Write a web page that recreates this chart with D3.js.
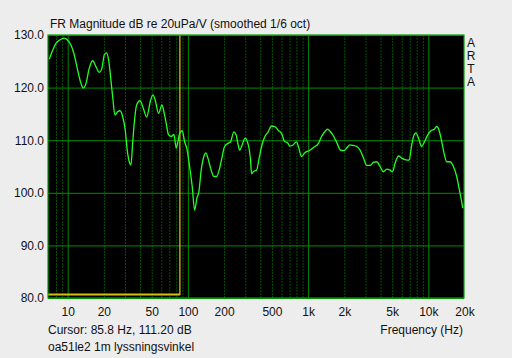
<!DOCTYPE html>
<html>
<head>
<meta charset="utf-8">
<script src="https://cdn.jsdelivr.net/npm/d3@7"></script>
<style>
  body { margin: 0; background: #eeeded; }
  text { font-family: "Liberation Sans", Arial, sans-serif; font-size: 12px; fill: #111; }
</style>
</head>
<body>
<div id="myDiv"></div>
<script>
// frequency (Hz) and level (dB)
var freqs = [7.03, 7.5, 7.99, 8.8, 9.37, 10, 10.65, 11.35, 12.11, 12.9, 13.48, 14.2, 15.12, 16.14, 17.19, 18.31,
  19.28, 20.15, 21.1, 21.92, 22.9, 23.66, 24.73, 26.04, 27.21, 28.66, 30.12, 31.29, 32.52, 33.6, 34.7, 35.78,
  37.46, 39.9, 42.5, 45.36, 48.97, 51.19, 53.5, 57.07, 60.8, 63.17, 66.02, 69.11, 72.64, 76.49, 79.93, 82.58,
  85.31, 89.66, 93.89, 98.67, 103.3, 108.6, 113.7, 118.8, 123.4, 129, 135.8, 141.1, 146.7, 154.4, 164.5, 173.2,
  182, 191.7, 201.9, 215.1, 226.5, 241.2, 252.1, 260.4, 269.1, 282.8, 299.5, 315.4, 332.1, 338.5, 349, 372.5,
  391.5, 410, 436.6, 465.1, 496.4, 528.8, 563.2, 601.1, 640.3, 669.1, 704.6, 750.5, 800.9, 836.9, 881.3, 938.9,
  1033, 1137, 1211, 1293, 1377, 1450, 1536, 1635, 1742, 1859, 1981, 2110, 2222, 2366, 2541, 2706, 2887, 3076,
  3277, 3496, 3725, 3967, 4236, 4511, 4805, 5031, 5288, 5643, 6010, 6403, 6912, 7278, 7606, 7903, 8275, 8813,
  9281, 9886, 10530, 11240, 11740, 12270, 12930, 13610, 14220, 15150, 16170, 17220, 18000, 18700, 19320];
var levels = [125.4, 127.1, 128.4, 129.2, 129.4, 129.0, 128.1, 126.2, 123.3, 120.8, 119.9, 120.8, 123.7, 125.1, 124.0, 122.9,
  123.7, 126.2, 126.6, 125.2, 121.4, 118.3, 114.8, 115.4, 115.6, 114.5, 111.9, 108.1, 105.9, 105.3, 109.4, 113.2,
  116.7, 117.5, 116.1, 114.4, 117.6, 118.6, 117.6, 115.1, 116.7, 115.4, 113.2, 111.0, 110.7, 111.1, 108.5, 109.7,
  111.3, 111.8, 109.7, 108.1, 105.0, 101.2, 96.7, 99.0, 100.2, 104.3, 106.9, 107.6, 106.6, 104.7, 103.1, 103.1,
  104.3, 106.6, 108.8, 109.4, 109.7, 111.6, 111.0, 109.4, 108.1, 109.1, 110.4, 109.4, 106.2, 103.6, 104.0, 104.3,
  106.6, 108.8, 110.7, 111.6, 112.7, 112.6, 111.9, 111.3, 109.7, 109.6, 108.9, 109.1, 109.7, 108.5, 106.9, 107.6,
  108.1, 108.8, 109.3, 110.7, 111.6, 112.1, 111.6, 110.7, 109.4, 108.1, 108.0, 108.6, 109.1, 109.0, 108.8, 108.1,
  106.6, 105.2, 105.2, 105.8, 105.9, 105.0, 104.0, 104.5, 104.3, 104.0, 105.6, 107.0, 106.6, 106.3, 106.2, 109.1,
  111.0, 111.4, 110.4, 108.8, 109.7, 111.0, 111.8, 112.1, 112.6, 111.9, 109.7, 107.2, 105.9, 105.9, 105.0, 103.1,
  100.9, 99.0, 97.1];

var xTicks = [10, 20, 50, 100, 200, 500, 1000, 2000, 5000, 10000, 20000];
var xTickLabels = ["10", "20", "50", "100", "200", "500", "1k", "2k", "5k", "10k", "20k"];
var majorFreqs = [10, 100, 1000, 10000];
var minorFreqs = [8, 9, 20, 30, 40, 50, 60, 70, 80, 90, 200, 300, 400, 500, 600, 700, 800, 900,
  2000, 3000, 4000, 5000, 6000, 7000, 8000, 9000];
var yTicks = [80, 90, 100, 110, 120, 130];
var cursorFreq = 85.8;

function drawChart() {
  //Width and height
  var w = 512, h = 358;
  var pLeft = 48, pRight = 464, pTop = 35, pBottom = 298;

  var svg = d3.select("#myDiv").append("svg")
      .attr("width", w)
      .attr("height", h);

  var x = d3.scaleLog().domain([6.86, 19800]).range([pLeft, pRight]);
  var y = d3.scaleLinear().domain([80, 130]).range([pBottom, pTop]);

  // plot background
  svg.append("rect")
    .attr("x", pLeft).attr("y", pTop)
    .attr("width", pRight - pLeft).attr("height", pBottom - pTop)
    .attr("fill", "#000");

  // minor vertical grid
  svg.append("g")
    .attr("transform", "translate(0," + pBottom + ")")
    .call(d3.axisBottom(x).tickValues(minorFreqs).tickSize(-(pBottom - pTop)).tickFormat(""))
    .call(function(g) {
      g.select(".domain").remove();
      g.selectAll("line").attr("stroke", "#005200").attr("stroke-dasharray", "2,1");
    });

  // major vertical grid
  svg.append("g")
    .attr("transform", "translate(0," + pBottom + ")")
    .call(d3.axisBottom(x).tickValues(majorFreqs).tickSize(-(pBottom - pTop)).tickFormat(""))
    .call(function(g) {
      g.select(".domain").remove();
      g.selectAll("line").attr("stroke", "#008c00");
    });

  // horizontal grid
  svg.append("g")
    .attr("transform", "translate(" + pLeft + ",0)")
    .call(d3.axisLeft(y).tickValues(yTicks).tickSize(-(pRight - pLeft)).tickFormat(""))
    .call(function(g) {
      g.select(".domain").remove();
      g.selectAll("line").attr("stroke", "#008c00");
    });

  // cursor
  svg.append("line")
    .attr("x1", x(cursorFreq)).attr("x2", x(cursorFreq))
    .attr("y1", pTop).attr("y2", pBottom - 3)
    .attr("stroke", "#f0c020").attr("stroke-width", 1.2);
  svg.append("line")
    .attr("x1", pLeft).attr("x2", x(cursorFreq))
    .attr("y1", pBottom - 3.5).attr("y2", pBottom - 3.5)
    .attr("stroke", "#d8c000").attr("stroke-width", 2);

  // border
  svg.append("rect")
    .attr("x", pLeft).attr("y", pTop)
    .attr("width", pRight - pLeft).attr("height", pBottom - pTop)
    .attr("fill", "none").attr("stroke", "#00a000").attr("stroke-width", 1.2);

  // response curve
  svg.append("clipPath").attr("id", "clip")
    .append("rect").attr("x", pLeft).attr("y", pTop)
    .attr("width", pRight - pLeft).attr("height", pBottom - pTop);

  var line = d3.line()
    .x(function(d, i) { return x(freqs[i]); })
    .y(function(d) { return y(d); })
    .curve(d3.curveMonotoneX);

  svg.append("path")
    .datum(levels)
    .attr("clip-path", "url(#clip)")
    .attr("d", line)
    .attr("fill", "none")
    .attr("stroke", "#22ff22")
    .attr("stroke-width", 1.3);

  // axis labels
  svg.append("g")
    .attr("transform", "translate(0," + (pBottom + 6) + ")")
    .call(d3.axisBottom(x).tickValues(xTicks).tickSize(0)
      .tickFormat(function(d, i) { return xTickLabels[i]; }))
    .call(function(g) {
      g.select(".domain").remove();
      g.selectAll("text").attr("font-size", 12).attr("fill", "#111")
        .attr("font-family", "Liberation Sans, Arial, sans-serif");
    });

  svg.append("g")
    .attr("transform", "translate(" + (pLeft - 4) + ",0)")
    .call(d3.axisLeft(y).tickValues(yTicks).tickSize(0).tickFormat(d3.format(".1f")))
    .call(function(g) {
      g.select(".domain").remove();
      g.selectAll("text").attr("font-size", 12).attr("fill", "#111").attr("x", 0)
        .attr("font-family", "Liberation Sans, Arial, sans-serif");
    });

  svg.append("text").attr("x", 50).attr("y", 28)
    .text("FR Magnitude dB re 20uPa/V (smoothed 1/6 oct)");

  var arta = ["A", "R", "T", "A"];
  svg.selectAll(".arta").data(arta).enter().append("text")
    .attr("class", "arta")
    .attr("x", 471).attr("y", function(d, i) { return 47 + i * 13; })
    .attr("text-anchor", "middle")
    .text(function(d) { return d; });

  svg.append("text").attr("x", 48).attr("y", 334)
    .text("Cursor: 85.8 Hz, 111.20 dB");
  svg.append("text").attr("x", 48).attr("y", 351)
    .text("oa51le2 1m lyssningsvinkel");
  svg.append("text").attr("x", 463).attr("y", 334)
    .attr("text-anchor", "end")
    .text("Frequency (Hz)");
}

drawChart();
</script>
</body>
</html>
